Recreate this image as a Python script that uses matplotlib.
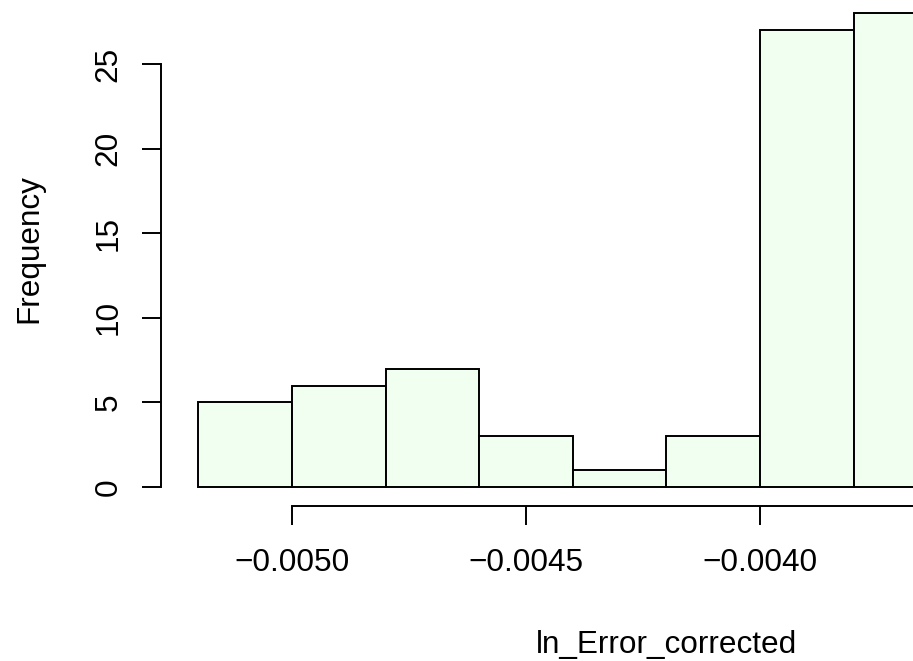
import numpy as np
import matplotlib
matplotlib.use("Agg")
import matplotlib.pyplot as plt

# histogram bins
bin_edges = [-0.0052, -0.0050, -0.0048, -0.0046, -0.0044, -0.0042, -0.0040, -0.0038, -0.0036]
counts = [5, 6, 7, 3, 1, 3, 27, 28]

x_ticks = [-0.0050, -0.0045, -0.0040]
x_tick_labels = ["\u22120.0050", "\u22120.0045", "\u22120.0040"]
y_ticks = [0, 5, 10, 15, 20, 25]

plt.rcParams['font.family'] = ['Liberation Sans', 'DejaVu Sans']
fs = 22.7
lw = 1.4

W, H = 913, 661
fig = plt.figure(figsize=(W / 100, H / 100), dpi=100)
# axes box placed in pixels: left edge = y axis, bottom edge = x axis
ax = fig.add_axes([161 / W, (H - 506) / H, (W - 161) / W, 506 / H])

edges = np.array(bin_edges)
ax.bar(edges[:-1], counts, width=np.diff(edges), align='edge',
       color='#F0FFF0', edgecolor='black', linewidth=lw)

ax.set_xticks(x_ticks)
ax.set_xticklabels(x_tick_labels)
ax.set_yticks(y_ticks)
ax.set_yticklabels([str(v) for v in y_ticks], rotation=90, va='center')

ax.set_xlim(-0.0052799, -0.0036731)
ax.set_ylim(-1.12, 28.78)

for s in ['top', 'right']:
    ax.spines[s].set_visible(False)
ax.spines['left'].set_bounds(0, 25)
ax.spines['bottom'].set_bounds(-0.0050, -0.0035)
for s in ['left', 'bottom']:
    ax.spines[s].set_linewidth(lw)

ax.tick_params(axis='both', length=14, width=lw, labelsize=fs)
ax.tick_params(axis='x', pad=16)
ax.tick_params(axis='y', pad=13)

fig.text(666 / W, (H - 653) / H, "ln_Error_corrected", fontsize=fs,
         ha='center', va='baseline')
fig.text(29 / W, 1 - 249 / H, "Frequency", fontsize=fs,
         rotation=90, ha='center', va='center')

fig.savefig("out.png", dpi=100)
